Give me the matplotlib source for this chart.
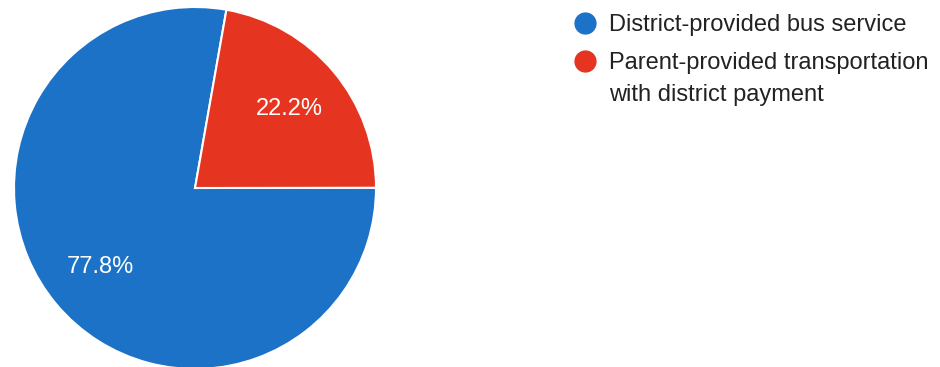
import matplotlib.pyplot as plt
from matplotlib.lines import Line2D

labels = ['District-provided bus service',
          'Parent-provided transportation\nwith district payment']
shares = [77.8, 22.2]
colors = ['#1b72c6', '#e5341f']

plt.rcParams['font.family'] = ['Liberation Sans', 'DejaVu Sans']

W, H = 940, 367
fig = plt.figure(figsize=(W / 100, H / 100), dpi=100)

# pie centre (195, 188) px, radius 181 px
cx, cy, r = 195, 188, 181
ax = fig.add_axes([(cx - r) / W, (H - cy - r) / H, 2 * r / W, 2 * r / H])
ax.pie(shares, colors=colors, startangle=80, counterclock=True,
       autopct='%1.1f%%', pctdistance=0.68,
       wedgeprops=dict(edgecolor='white', linewidth=1.5),
       textprops=dict(color='white', fontsize=17))
ax.set_xlim(-1, 1)
ax.set_ylim(-1, 1)
ax.set_aspect('equal')
ax.axis('off')

# legend drawn by hand so the marker sits on the first line
marker_y = [23, 61]
text_top = [14, 52]
for lab, col, my, ty in zip(labels, colors, marker_y, text_top):
    fig.add_artist(Line2D([585 / W], [1 - my / H], marker='o', markersize=15,
                          color=col, linestyle='none', transform=fig.transFigure))
    fig.text(609 / W, 1 - ty / H, lab, fontsize=17, color='#222222',
             va='top', ha='left', linespacing=1.6)

fig.savefig('out.png', dpi=100)
